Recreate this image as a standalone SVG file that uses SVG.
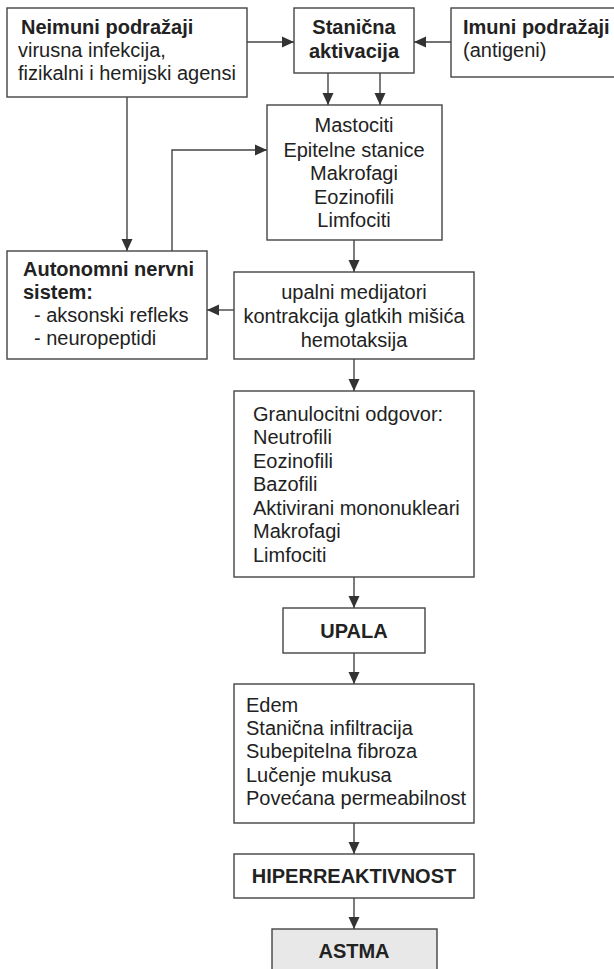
<svg xmlns="http://www.w3.org/2000/svg" width="614" height="969" viewBox="0 0 614 969">
<defs>
<marker id="ah" markerUnits="userSpaceOnUse" markerWidth="12" markerHeight="12" viewBox="0 0 12 12" refX="12" refY="6" orient="auto">
<path d="M0,0.5 L12,6 L0,11.5 Z" fill="#333"/>
</marker>
<style>
.box{fill:#fff;stroke:#444;stroke-width:1.4}
.t{font-family:"Liberation Sans",Arial,sans-serif;font-size:20px;fill:#222}
.b{font-weight:bold}
.c{text-anchor:middle}
.ln{fill:none;stroke:#444;stroke-width:1.4}
</style>
</defs>
<rect width="614" height="969" fill="#fff"/>
<g id="connectors">
<line class="ln" x1="247" y1="42" x2="294" y2="42" marker-end="url(#ah)"/>
<line class="ln" x1="451" y1="42" x2="414" y2="42" marker-end="url(#ah)"/>
<line class="ln" x1="328" y1="73" x2="328" y2="105" marker-end="url(#ah)"/>
<line class="ln" x1="380" y1="73" x2="380" y2="105" marker-end="url(#ah)"/>
<line class="ln" x1="127" y1="97" x2="127" y2="251" marker-end="url(#ah)"/>
<polyline class="ln" points="172,251 172,150 267,150" marker-end="url(#ah)"/>
<line class="ln" x1="354" y1="240" x2="354" y2="272" marker-end="url(#ah)"/>
<line class="ln" x1="234" y1="310" x2="207" y2="310" marker-end="url(#ah)"/>
<line class="ln" x1="354" y1="359" x2="354" y2="391" marker-end="url(#ah)"/>
<line class="ln" x1="354" y1="577" x2="354" y2="608" marker-end="url(#ah)"/>
<line class="ln" x1="354" y1="653" x2="354" y2="684" marker-end="url(#ah)"/>
<line class="ln" x1="354" y1="823" x2="354" y2="854" marker-end="url(#ah)"/>
<line class="ln" x1="354" y1="898" x2="354" y2="929" marker-end="url(#ah)"/>
</g>
<g id="neimuni">
<rect class="box" x="7" y="8" width="240" height="89"/>
<text class="t b" x="21" y="34">Neimuni podražaji</text>
<text class="t" x="18" y="57">virusna infekcija,</text>
<text class="t" x="18" y="80">fizikalni i hemijski agensi</text>
</g>
<g id="stanicna">
<rect class="box" x="294" y="8" width="120" height="65"/>
<text class="t b c" x="354" y="34">Stanična</text>
<text class="t b c" x="354" y="58">aktivacija</text>
</g>
<g id="imuni">
<rect class="box" x="451" y="8" width="170" height="69"/>
<text class="t b" x="463" y="34">Imuni podražaji</text>
<text class="t" x="463" y="57">(antigeni)</text>
</g>
<g id="stanice">
<rect class="box" x="267" y="105" width="175" height="135"/>
<text class="t c" x="354" y="132">Mastociti</text>
<text class="t c" x="354" y="157">Epitelne stanice</text>
<text class="t c" x="354" y="180">Makrofagi</text>
<text class="t c" x="354" y="204">Eozinofili</text>
<text class="t c" x="354" y="227">Limfociti</text>
</g>
<g id="autonomni">
<rect class="box" x="7" y="251" width="200" height="108"/>
<text class="t b" x="23" y="276">Autonomni nervni</text>
<text class="t b" x="23" y="299">sistem:</text>
<text class="t" x="34" y="322">- aksonski refleks</text>
<text class="t" x="34" y="345">- neuropeptidi</text>
</g>
<g id="medijatori">
<rect class="box" x="234" y="272" width="240" height="87"/>
<text class="t c" x="354" y="299">upalni medijatori</text>
<text class="t c" x="354" y="323">kontrakcija glatkih mišića</text>
<text class="t c" x="354" y="347">hemotaksija</text>
</g>
<g id="granulocitni">
<rect class="box" x="234" y="391" width="240" height="186"/>
<text class="t" x="253" y="421">Granulocitni odgovor:</text>
<text class="t" x="253" y="444">Neutrofili</text>
<text class="t" x="253" y="468">Eozinofili</text>
<text class="t" x="253" y="491">Bazofili</text>
<text class="t" x="253" y="515">Aktivirani mononukleari</text>
<text class="t" x="253" y="538">Makrofagi</text>
<text class="t" x="253" y="562">Limfociti</text>
</g>
<g id="upala">
<rect class="box" x="283" y="608" width="142" height="45"/>
<text class="t b c" x="354" y="638">UPALA</text>
</g>
<g id="promjene">
<rect class="box" x="234" y="684" width="240" height="139"/>
<text class="t" x="246" y="712">Edem</text>
<text class="t" x="246" y="735">Stanična infiltracija</text>
<text class="t" x="246" y="758">Subepitelna fibroza</text>
<text class="t" x="246" y="782">Lučenje mukusa</text>
<text class="t" x="246" y="805">Povećana permeabilnost</text>
</g>
<g id="hiperreaktivnost">
<rect class="box" x="234" y="854" width="240" height="44"/>
<text class="t b c" x="354" y="883">HIPERREAKTIVNOST</text>
</g>
<g id="astma">
<rect class="box" x="272" y="929" width="165" height="50" style="fill:#e8e8e8"/>
<text class="t b c" x="354" y="958">ASTMA</text>
</g>
</svg>
